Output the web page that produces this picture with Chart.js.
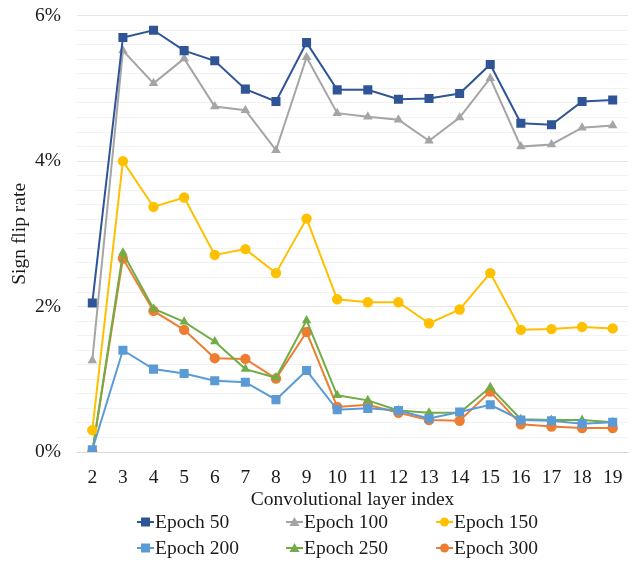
<!DOCTYPE html>
<html>
<head>
<meta charset="utf-8">
<script src="https://cdn.jsdelivr.net/npm/chart.js@4.4.0/dist/chart.umd.min.js"></script>
<style>
  html, body { margin: 0; padding: 0; background: #fff; }
  #wrap { position: relative; width: 639px; height: 563px; overflow: hidden; }
  #cv { position: absolute; left: 0; top: -12px; }
  #legend { position: absolute; left: 0; top: 0; width: 639px; height: 563px; pointer-events: none;
            font-family: 'Liberation Serif'; font-size: 19.5px; color: #1a1a1a; }
  .item { position: absolute; display: flex; align-items: center; height: 22px; white-space: nowrap; }
  .item svg { margin-right: 1px; }
</style>
</head>
<body>
<div id="wrap">
  <canvas id="cv" width="639" height="524"></canvas>
  <div id="legend"></div>
</div>
<script>
const layers = ['2','3','4','5','6','7','8','9','10','11','12','13','14','15','16','17','18','19'];
const epoch50  = [2.05,5.70,5.80,5.52,5.38,4.99,4.82,5.63,4.98,4.98,4.85,4.86,4.93,5.33,4.52,4.50,4.82,4.84];
const epoch100 = [1.26,5.52,5.07,5.41,4.75,4.70,4.15,5.43,4.66,4.61,4.57,4.28,4.60,5.14,4.20,4.23,4.46,4.49];
const epoch150 = [0.30,4.00,3.37,3.50,2.71,2.79,2.46,3.21,2.10,2.06,2.06,1.77,1.96,2.46,1.68,1.69,1.72,1.70];
const epoch200 = [0.03,1.40,1.14,1.08,0.98,0.96,0.72,1.12,0.58,0.60,0.57,0.46,0.55,0.65,0.44,0.43,0.39,0.41];
const epoch250 = [0.00,2.74,1.97,1.79,1.52,1.14,1.02,1.81,0.78,0.71,0.57,0.54,0.54,0.89,0.45,0.44,0.44,0.41];
const epoch300 = [0.00,2.66,1.94,1.68,1.29,1.28,1.01,1.65,0.62,0.65,0.54,0.44,0.43,0.83,0.38,0.35,0.33,0.33];
const seriesNames = ['Epoch 50','Epoch 100','Epoch 150','Epoch 200','Epoch 250','Epoch 300'];
const yTickLabels = ['0%','2%','4%','6%'];

const seriesData = [epoch50, epoch100, epoch150, epoch200, epoch250, epoch300];
const colors = ['#2F5597','#A5A5A5','#FFC000','#5B9BD5','#70AD47','#ED7D31'];
const styles = ['rect','triangle','circle','rect','triangle','circle'];
const radii  = { rect: 6.4, triangle: 5.5, circle: 5.2 };

const FONT = 'Liberation Serif';
const FS = 19.5;
const TXT = '#1a1a1a';

function build() {
  const datasets = seriesData.map((d, i) => ({
    label: seriesNames[i],
    data: d,
    borderColor: colors[i],
    backgroundColor: colors[i],
    borderWidth: 2,
    pointStyle: styles[i],
    pointRadius: radii[styles[i]],
    pointHoverRadius: radii[styles[i]],
    pointBorderWidth: 0,
    tension: 0,
    fill: false
  }));

  new Chart(document.getElementById('cv'), {
    type: 'line',
    data: { labels: layers, datasets },
    options: {
      responsive: false,
      animation: false,
      devicePixelRatio: 1,
      layout: { padding: { left: 8, right: 11, top: 1, bottom: 0 } },
      plugins: { legend: { display: false }, tooltip: { enabled: false } },
      scales: {
        x: {
          offset: true,
          grid: { display: false, drawTicks: false },
          border: { display: true, color: '#D9D9D9', width: 1 },
          ticks: { font: { family: FONT, size: FS }, color: TXT, padding: 14, maxRotation: 0, autoSkip: false },
          title: { display: true, text: 'Convolutional layer index', font: { family: FONT, size: FS }, color: TXT, padding: { top: 0, bottom: 0 } },
          afterFit: s => { s.height = 60; }
        },
        y: {
          min: 0, max: 6,
          grid: {
            drawTicks: false,
            color: ctx => {
              const v = ctx.tick ? ctx.tick.value : 0;
              return Math.abs(v / 2 - Math.round(v / 2)) < 1e-6 ? '#E6E6E6' : '#F2F2F2';
            },
            lineWidth: 1
          },
          border: { display: false },
          ticks: {
            stepSize: 0.2,
            autoSkip: false,
            font: { family: FONT, size: FS },
            color: TXT,
            padding: 16,
            callback: v => {
              const k = Math.round(v / 2);
              return Math.abs(v / 2 - k) < 1e-6 ? yTickLabels[k] : '';
            }
          },
          title: { display: true, text: 'Sign flip rate', font: { family: FONT, size: FS }, color: TXT, padding: { top: 0, bottom: 0 } },
          afterFit: s => { s.width = 69; }
        }
      }
    }
  });

  const legend = document.getElementById('legend');
  const colX = [137, 286, 436];
  const rowY = [511, 537];
  seriesNames.forEach((name, i) => {
    const div = document.createElement('div');
    div.className = 'item';
    div.style.left = colX[i % 3] + 'px';
    div.style.top = rowY[Math.floor(i / 3)] + 'px';
    let marker;
    if (styles[i] === 'rect') marker = `<rect x="4" y="6.5" width="9" height="9" fill="${colors[i]}"/>`;
    else if (styles[i] === 'triangle') marker = `<polygon points="8.5,6 13.5,15 3.5,15" fill="${colors[i]}"/>`;
    else marker = `<circle cx="8.5" cy="11" r="4.5" fill="${colors[i]}"/>`;
    div.innerHTML = `<svg width="17" height="22"><line x1="0" y1="11" x2="17" y2="11" stroke="${colors[i]}" stroke-width="2"/>${marker}</svg><span>${name}</span>`;
    legend.appendChild(div);
  });
}

if (document.fonts && document.fonts.load) {
  document.fonts.load('19.5px "Liberation Serif"').then(build, build);
} else {
  build();
}
</script>
</body>
</html>
